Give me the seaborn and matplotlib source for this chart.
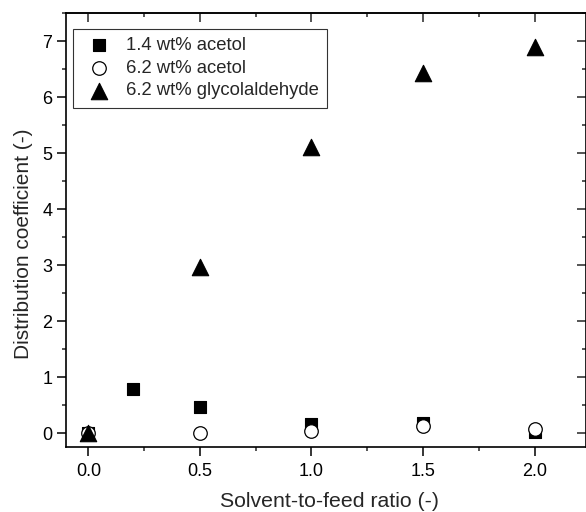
import matplotlib
matplotlib.use("Agg")
import matplotlib.pyplot as plt
import seaborn as sns
import pandas as pd
from matplotlib.ticker import MultipleLocator

sns.set_style("ticks")
plt.rcParams['font.family'] = ['Liberation Sans', 'DejaVu Sans']

x_sq = [0.0, 0.2, 0.5, 1.0, 1.5, 2.0]
y_sq = [0.0, 0.79, 0.47, 0.16, 0.17, 0.02]
x_ci = [0.0, 0.5, 1.0, 1.5, 2.0]
y_ci = [0.0, 0.0, 0.03, 0.13, 0.08]
x_tr = [0.0, 0.5, 1.0, 1.5, 2.0]
y_tr = [0.0, 2.97, 5.1, 6.42, 6.9]

labels = ["1.4 wt% acetol", "6.2 wt% acetol", "6.2 wt% glycolaldehyde"]
xticklabels = ["0.0", "0.5", "1.0", "1.5", "2.0"]
xlabel = "Solvent-to-feed ratio (-)"
ylabel = "Distribution coefficient (-)"

fig = plt.figure(figsize=(5.86, 5.12), dpi=100)
ax = fig.add_axes([66/586, 1-447/512, (586-66)/586, (447-13)/512])

d1 = pd.DataFrame({"x": x_sq, "y": y_sq})
d2 = pd.DataFrame({"x": x_ci, "y": y_ci})
d3 = pd.DataFrame({"x": x_tr, "y": y_tr})
sns.scatterplot(data=d1, x="x", y="y", marker="s", s=82, color="black",
                edgecolor="black", linewidth=0.8, ax=ax, label=labels[0], zorder=3)
sns.scatterplot(data=d2, x="x", y="y", marker="o", s=95, facecolor="white",
                edgecolor="black", linewidth=0.9, ax=ax, label=labels[1], zorder=4)
sns.scatterplot(data=d3, x="x", y="y", marker="^", s=140, color="black",
                edgecolor="black", linewidth=0.8, ax=ax, label=labels[2], zorder=5)

ax.set_xlim(-0.1, 2.23)
ax.set_ylim(-0.25, 7.5)
ax.xaxis.set_major_locator(MultipleLocator(0.5))
ax.xaxis.set_minor_locator(MultipleLocator(0.25))
ax.yaxis.set_major_locator(MultipleLocator(1))
ax.yaxis.set_minor_locator(MultipleLocator(0.5))
ax.set_xticks([0.0, 0.5, 1.0, 1.5, 2.0])
ax.set_xticklabels(xticklabels)

ax.set_xlabel(xlabel, fontsize=15.3, labelpad=9)
ax.set_ylabel(ylabel, fontsize=15, labelpad=7)
ax.xaxis.label.set_x(0.506)
ax.yaxis.label.set_y(0.468)

for s in ax.spines.values():
    s.set_visible(True)
    s.set_linewidth(1.2)
    s.set_color("black")

ax.tick_params(axis="both", which="major", length=6.3, width=1.1, labelsize=13, colors="black")
ax.tick_params(axis="both", which="minor", length=3.2, width=1.1)
ax.tick_params(axis="x", which="both", direction="out", bottom=True, pad=5)
ax.tick_params(axis="y", which="both", direction="out", left=True, pad=3.5)

secx = ax.secondary_xaxis("top")
secx.xaxis.set_major_locator(MultipleLocator(0.5))
secx.xaxis.set_minor_locator(MultipleLocator(0.25))
secx.tick_params(which="major", direction="in", length=6.3, width=1.1, labeltop=False)
secx.tick_params(which="minor", direction="in", length=3.2, width=1.1)
secx.spines["top"].set_linewidth(1.2)
secy = ax.secondary_yaxis("right")
secy.yaxis.set_major_locator(MultipleLocator(1))
secy.yaxis.set_minor_locator(MultipleLocator(0.5))
secy.tick_params(which="major", direction="in", length=6.3, width=1.1, labelright=False)
secy.tick_params(which="minor", direction="in", length=3.2, width=1.1)
ax.tick_params(top=False, right=False, which="both")

leg = ax.legend(loc="upper left", bbox_to_anchor=(0.0129, 0.9631), fontsize=13.3,
                frameon=True, fancybox=False, edgecolor="black", borderpad=0.45,
                labelspacing=0.3, handletextpad=0.49, handlelength=1.95,
                borderaxespad=0)
leg.get_frame().set_linewidth(0.8)

fig.savefig("out.png", dpi=100)
